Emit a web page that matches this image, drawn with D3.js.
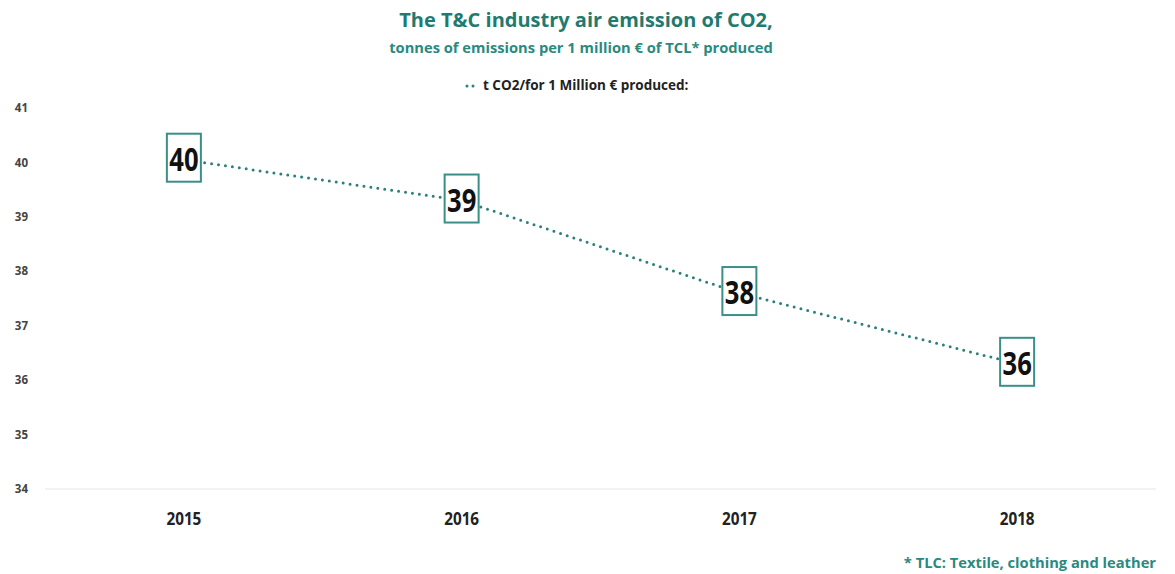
<!DOCTYPE html>
<html>
<head>
<meta charset="utf-8">
<script src="https://cdn.jsdelivr.net/npm/d3@7"></script>
<style>
  body { margin: 0; background: #fff; }
  text { font-family: "Open Sans", sans-serif; font-weight: bold; }
</style>
</head>
<body>
<script>
const years = ["2015", "2016", "2017", "2018"];
const emissions = [40.05, 39.3, 37.6, 36.3];
const valueLabels = ["40", "39", "38", "36"];
const yTicks = [34, 35, 36, 37, 38, 39, 40, 41];

const width = 1175;
const height = 574;
const teal = "#2b8079";

let svg = d3.select("body").append("svg")
  .attr("width", width)
  .attr("height", height);

let xScale = d3.scaleBand()
  .domain(years)
  .range([45, 1156]);

let yScale = d3.scaleLinear()
  .domain([34, 41])
  .range([489, 108]);

// titles
svg.append("text")
  .attr("x", 586).attr("y", 27)
  .attr("text-anchor", "middle")
  .attr("fill", "#1f7a70")
  .attr("font-size", 20)
  .text("The T&C industry air emission of CO2,");
svg.append("text")
  .attr("x", 581).attr("y", 53)
  .attr("text-anchor", "middle")
  .attr("fill", "#2a8a80")
  .attr("font-size", 14.7)
  .text("tonnes of emissions per 1 million € of TCL* produced");

// legend
svg.append("line")
  .attr("x1", 467).attr("x2", 478)
  .attr("y1", 86).attr("y2", 86)
  .attr("stroke", teal).attr("stroke-width", 3)
  .attr("stroke-linecap", "round")
  .attr("stroke-dasharray", "0,6");
svg.append("text")
  .attr("x", 483).attr("y", 90)
  .attr("fill", "#222")
  .attr("font-size", 13.5)
  .text("t CO2/for 1 Million € produced:");

// baseline
svg.append("line")
  .attr("x1", 45).attr("x2", 1156)
  .attr("y1", yScale(34)).attr("y2", yScale(34))
  .attr("stroke", "#eeeeee").attr("stroke-width", 1.5);

// y axis
let yAxis = d3.axisLeft(yScale).tickValues(yTicks).tickFormat(d3.format("d")).tickSize(0).tickPadding(0);
svg.append("g")
  .attr("transform", "translate(28,0)")
  .call(yAxis)
  .call(g => g.select(".domain").remove())
  .call(g => g.selectAll("text")
    .attr("fill", "#444")
    .attr("font-size", 11.5)
    .attr("font-family", "Open Sans, sans-serif")
    .attr("font-weight", "bold"));

// x axis
let xAxis = d3.axisBottom(xScale).tickSize(0).tickPadding(0);
svg.append("g")
  .attr("transform", "translate(0,512)")
  .call(xAxis)
  .call(g => g.select(".domain").remove())
  .call(g => g.selectAll("text")
    .attr("fill", "#222")
    .attr("font-size", 18)
    .attr("font-family", "Open Sans, sans-serif")
    .attr("font-weight", "bold")
    .attr("transform", "scale(0.85,1)"));

// line
let line = d3.line()
  .x((d, i) => xScale(years[i]) + xScale.bandwidth() / 2)
  .y(d => yScale(d));

svg.append("path")
  .attr("d", line(emissions))
  .attr("fill", "none")
  .attr("stroke", teal)
  .attr("stroke-width", 3)
  .attr("stroke-linecap", "round")
  .attr("stroke-dasharray", "0,7");

// value boxes
let boxes = svg.append("g")
  .selectAll("g")
  .data(emissions)
  .join("g")
  .attr("transform", (d, i) => `translate(${xScale(years[i]) + xScale.bandwidth() / 2},${yScale(d)})`);

boxes.append("rect")
  .attr("x", -17).attr("y", -26)
  .attr("width", 34).attr("height", 48)
  .attr("fill", "#fff")
  .attr("stroke", "#3a8f88")
  .attr("stroke-width", 2);

boxes.append("text")
  .attr("text-anchor", "middle")
  .attr("transform", "scale(0.8,1)")
  .attr("y", 11)
  .attr("font-size", 32)
  .attr("fill", "#111")
  .text((d, i) => valueLabels[i]);

// footnote
svg.append("text")
  .attr("x", 1156).attr("y", 568)
  .attr("text-anchor", "end")
  .attr("fill", "#2a8a80")
  .attr("font-size", 14.7)
  .text("* TLC: Textile, clothing and leather");
</script>
</body>
</html>
